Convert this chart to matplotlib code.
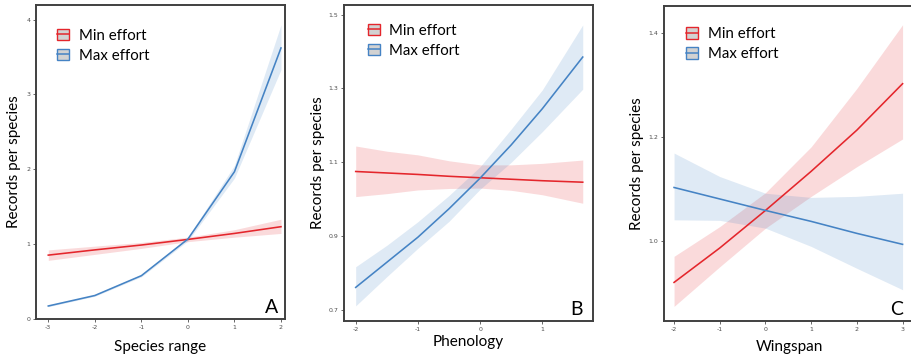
import matplotlib
matplotlib.use("Agg")
import matplotlib.pyplot as plt
from matplotlib.patches import Patch
from matplotlib.lines import Line2D

# panel A: species range
a_x = [-3, -2, -1, 0, 1, 2]
a_min = [0.85, 0.92, 0.985, 1.06, 1.14, 1.23]
a_min_lo = [0.78, 0.86, 0.94, 1.03, 1.09, 1.14]
a_min_hi = [0.92, 0.97, 1.02, 1.09, 1.19, 1.33]
a_max = [0.17, 0.31, 0.575, 1.065, 1.965, 3.62]
a_max_lo = [0.16, 0.30, 0.56, 1.04, 1.88, 3.33]
a_max_hi = [0.18, 0.32, 0.59, 1.09, 2.05, 3.93]

# panel B: phenology
b_x = [-2, -1.5, -1, -0.5, 0, 0.5, 1, 1.65]
b_min = [1.075, 1.071, 1.067, 1.062, 1.058, 1.054, 1.050, 1.046]
b_min_lo = [1.007, 1.015, 1.025, 1.029, 1.030, 1.024, 1.012, 0.989]
b_min_hi = [1.144, 1.130, 1.120, 1.104, 1.093, 1.093, 1.097, 1.106]
b_max = [0.761, 0.829, 0.897, 0.974, 1.057, 1.147, 1.245, 1.385]
b_max_lo = [0.711, 0.790, 0.867, 0.940, 1.027, 1.100, 1.183, 1.298]
b_max_hi = [0.817, 0.875, 0.939, 1.010, 1.088, 1.190, 1.296, 1.472]

# panel C: wingspan
c_x = [-2, -1, 0, 1, 2, 3]
c_min = [0.921, 0.987, 1.059, 1.134, 1.213, 1.302]
c_min_lo = [0.875, 0.951, 1.025, 1.086, 1.143, 1.196]
c_min_hi = [0.971, 1.028, 1.093, 1.181, 1.293, 1.415]
c_max = [1.103, 1.081, 1.059, 1.038, 1.015, 0.994]
c_max_lo = [1.041, 1.040, 1.025, 0.990, 0.948, 0.907]
c_max_hi = [1.169, 1.124, 1.092, 1.084, 1.086, 1.092]

red = "#e4262c"
blue = "#4583c4"
W, H = 911, 359
lab_font = "Lato"

fig = plt.figure(figsize=(W / 100, H / 100), dpi=100)


def make_ax(l, r, t, b):
    return fig.add_axes([l / W, 1 - b / H, (r - l) / W, (b - t) / H])


def panel(ax, x, mn, mn_lo, mn_hi, mx, mx_lo, mx_hi, xlim, ylim, xticks, yticks,
          xlab, letter, ylab_x, xlab_y, leg_x, leg_y, letter_x):
    ax.fill_between(x, mn_lo, mn_hi, color=red, alpha=0.17, lw=0)
    ax.fill_between(x, mx_lo, mx_hi, color=blue, alpha=0.17, lw=0)
    ax.plot(x, mn, color=red, lw=1.15)
    ax.plot(x, mx, color=blue, lw=1.15)
    ax.set_xlim(xlim)
    ax.set_ylim(ylim)
    ax.set_xticks(xticks)
    ax.set_yticks(yticks)
    ax.set_xticklabels([str(v) for v in xticks])
    ax.set_yticklabels([("%g" % v) if ylim[1] > 2 else "%.1f" % v for v in yticks])
    ax.tick_params(labelsize=4.5, labelcolor="#4d4d4d", color="#4d4d4d",
                   length=2.5, width=0.6, pad=1.5)
    for s in ax.spines.values():
        s.set_linewidth(1.4)
        s.set_color("#404040")
    ax.set_ylabel("Records per species", fontsize=11, family=lab_font, va="center")
    ax.yaxis.set_label_coords(ylab_x, 0.5)
    ax.set_xlabel(xlab, fontsize=11, family=lab_font, va="center")
    ax.xaxis.set_label_coords(0.5, xlab_y)
    handles = [
        (Patch(facecolor="#d2d2d2", edgecolor=red, lw=1.0), Line2D([], [], color=red, lw=1.1)),
        (Patch(facecolor="#d2d2d2", edgecolor=blue, lw=1.0), Line2D([], [], color=blue, lw=1.1)),
    ]
    ax.legend(handles, ["Min effort", "Max effort"], loc="upper left",
              bbox_to_anchor=(leg_x, leg_y), frameon=False,
              prop={"family": lab_font, "size": 10.8},
              handlelength=0.8, handleheight=0.8, handletextpad=0.65,
              labelspacing=0.4, borderpad=0, borderaxespad=0)
    ax.text(letter_x, 0.019, letter, transform=ax.transAxes, ha="right", va="baseline",
            fontsize=14, family=lab_font)


axA = make_ax(36, 285, 5, 319)
panel(axA, a_x, a_min, a_min_lo, a_min_hi, a_max, a_max_lo, a_max_hi,
      (-3.264, 2.086), (-0.004, 4.194), [-3, -2, -1, 0, 1, 2], [0, 1, 2, 3, 4],
      "Species range", "A", -0.09, -0.089, 0.084, 0.925, 0.972)

axB = make_ax(344, 593, 5, 321)
panel(axB, b_x, b_min, b_min_lo, b_min_hi, b_max, b_max_lo, b_max_hi,
      (-2.188, 1.815), (0.670, 1.526), [-2, -1, 0, 1], [0.7, 0.9, 1.1, 1.3, 1.5],
      "Phenology", "B", -0.104, -0.066, 0.095, 0.94, 0.96)

axC = make_ax(664, 914, 6, 321)
panel(axC, c_x, c_min, c_min_lo, c_min_hi, c_max, c_max_lo, c_max_hi,
      (-2.22, 3.25), (0.847, 1.451), [-2, -1, 0, 1, 2, 3], [1.0, 1.2, 1.4],
      "Wingspan", "C", -0.108, -0.083, 0.088, 0.933, 0.956)

fig.savefig("out.png", dpi=100)
